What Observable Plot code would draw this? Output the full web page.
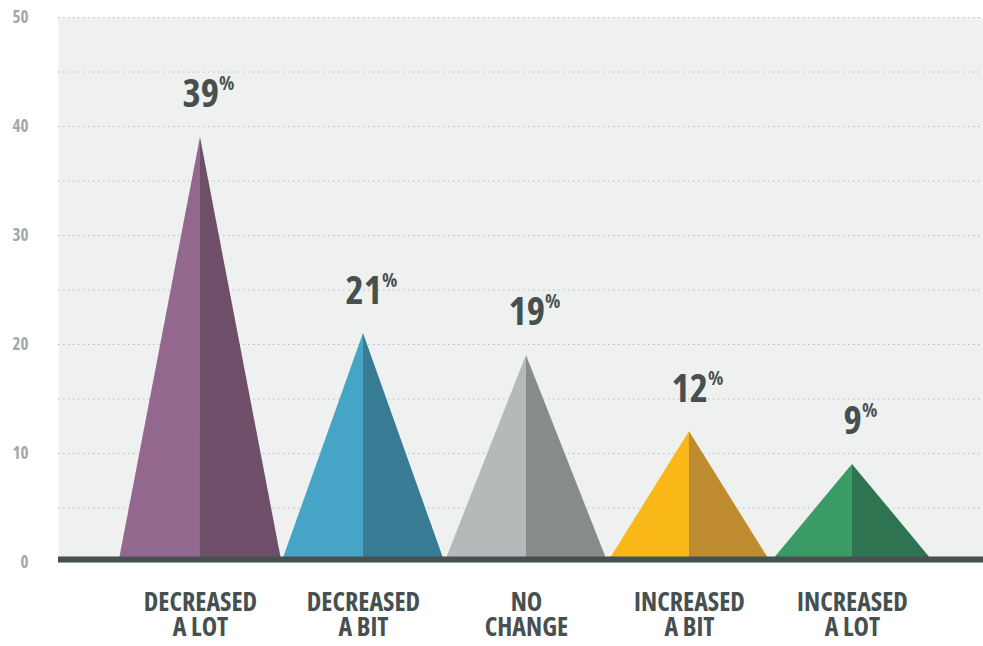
<!DOCTYPE html>
<html>
<head>
<meta charset="utf-8">
<script src="https://cdn.jsdelivr.net/npm/d3@7"></script>
<script src="https://cdn.jsdelivr.net/npm/@observablehq/plot@0.6"></script>
<style>
  html, body { margin: 0; padding: 0; background: #ffffff; }
  #chart svg { display: block; font-stretch: 75%; }
  #chart svg text { font-stretch: 75%; }
</style>
</head>
<body>
<div id="chart"></div>
<script>
// ---- data ----
const categories = ["DECREASED\nA LOT", "DECREASED\nA BIT", "NO\nCHANGE", "INCREASED\nA BIT", "INCREASED\nA LOT"];
const values = [39, 21, 19, 12, 9];
const lightColors = ["#94678e", "#46a5c7", "#b4bab9", "#f9b718", "#3a9b65"];
const darkColors  = ["#6e4e69", "#377b94", "#878c8b", "#be8b2f", "#2e7450"];
const yTicks = [0, 10, 20, 30, 40, 50];
const gridTicks = [5, 10, 15, 20, 25, 30, 35, 40, 45, 50];

const FONT = "'Open Sans', 'DejaVu Sans', sans-serif";
const DARK = "#475050";

// build triangle halves from the data
const pts = [];
values.forEach((v, i) => {
  pts.push({x: i - 0.5, y: 0, key: i + "L", c: lightColors[i]});
  pts.push({x: i, y: v, key: i + "L", c: lightColors[i]});
  pts.push({x: i, y: v, key: i + "R", c: darkColors[i]});
  pts.push({x: i + 0.5, y: 0, key: i + "R", c: darkColors[i]});
});
const labels = values.map((v, i) => ({i, v, t: v + "%"}));
const idx = categories.map((_, i) => i);

const svg = Plot.plot({
  width: 983,
  height: 646,
  marginLeft: 58,
  marginRight: 0,
  marginTop: 17,
  marginBottom: 84,
  style: {fontFamily: FONT, background: "#ffffff"},
  x: {domain: [-0.871, 4.804], axis: null},
  y: {domain: [0, 50], axis: null},
  color: {type: "identity"},
  marks: [
    Plot.frame({fill: "#eff1f0", stroke: null}),
    Plot.ruleY(gridTicks, {stroke: "#b9bcbc", strokeDasharray: "1.5,3.5", strokeWidth: 1}),
    Plot.areaY(pts, {x: "x", y1: 0, y2: "y", z: "key", fill: "c", curve: "linear"}),
    Plot.ruleY([0], {stroke: DARK, strokeWidth: 6, dy: -3}),
    Plot.axisY(yTicks, {anchor: "left", tickSize: 0, tickPadding: 30, fontSize: 17, fontWeight: "bold", fill: "#a3a7a7", tickFormat: d => d}),
    Plot.axisX(idx, {anchor: "bottom", tickSize: 0, tickPadding: 30, fontSize: 26, fontWeight: "bold", fill: DARK, lineHeight: 0.98, tickFormat: i => categories[i]}),
    Plot.text(labels, {x: "i", y: "v", text: "t", dx: 8, dy: -30, lineAnchor: "bottom", fontSize: 39, fontWeight: "bold", fill: DARK})
  ]
});

// superscript percent sign
d3.select(svg).selectAll("text").filter(function() { return /%$/.test(this.textContent); })
  .each(function() {
    const el = d3.select(this);
    const num = this.textContent.replace("%", "");
    el.text(null);
    el.append("tspan").text(num);
    el.append("tspan").attr("font-size", 20).attr("dy", "-0.85em").text("%");
  });

document.getElementById("chart").appendChild(svg);
</script>
</body>
</html>
